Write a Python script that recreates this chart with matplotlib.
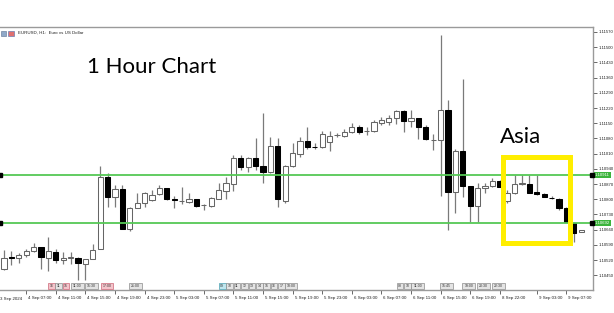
import numpy as np
import matplotlib.pyplot as plt
from matplotlib.patches import Rectangle
import matplotlib.transforms as mtrans

# EURUSD H1 candles (oldest first)
opens = [1.10480, 1.10532, 1.10528, 1.10541, 1.10563, 1.10578, 1.10531, 1.10558, 1.10518, 1.10531,
         1.10531, 1.10501, 1.10526, 1.10569, 1.10901, 1.10808, 1.10845, 1.10661, 1.10761, 1.10781,
         1.10796, 1.10822, 1.10853, 1.10801, 1.10793, 1.10787, 1.10801, 1.10773, 1.10768, 1.10802,
         1.10837, 1.10870, 1.10988, 1.10947, 1.10988, 1.10953, 1.10924, 1.11045, 1.10793, 1.10953,
         1.11008, 1.11069, 1.11041, 1.11039, 1.11062, 1.11095, 1.11092, 1.11109, 1.11134, 1.11115,
         1.11115, 1.11152, 1.11157, 1.11172, 1.11207, 1.11160, 1.11172, 1.11134, 1.11072, 1.11072,
         1.11210, 1.10834, 1.11022, 1.10861, 1.10768, 1.10850, 1.10862, 1.10885, 1.10791, 1.10827,
         1.10870, 1.10868, 1.10834, 1.10824, 1.10807, 1.10799, 1.10758, 1.10689, 1.10649]
highs = [1.10566, 1.10563, 1.10553, 1.10569, 1.10599, 1.10580, 1.10627, 1.10569, 1.10558, 1.10558,
         1.10535, 1.10526, 1.10593, 1.10953, 1.10919, 1.10865, 1.10865, 1.10765, 1.10827, 1.10834,
         1.10842, 1.10865, 1.10853, 1.10814, 1.10854, 1.10827, 1.10801, 1.10778, 1.10808, 1.10876,
         1.10903, 1.11003, 1.11003, 1.10995, 1.11083, 1.11195, 1.11088, 1.11083, 1.10957, 1.11057,
         1.11088, 1.11132, 1.11057, 1.11115, 1.11115, 1.11106, 1.11122, 1.11149, 1.11140, 1.11131,
         1.11164, 1.11177, 1.11187, 1.11210, 1.11210, 1.11210, 1.11172, 1.11141, 1.11100, 1.11556,
         1.11257, 1.11030, 1.11352, 1.10861, 1.10873, 1.10873, 1.10896, 1.10888, 1.10842, 1.10911,
         1.10911, 1.10911, 1.10911, 1.10827, 1.10814, 1.10804, 1.10764, 1.10696, 1.10658]
lows = [1.10474, 1.10497, 1.10505, 1.10535, 1.10557, 1.10477, 1.10469, 1.10505, 1.10500, 1.10501,
        1.10428, 1.10428, 1.10526, 1.10569, 1.10765, 1.10765, 1.10664, 1.10655, 1.10758, 1.10765,
        1.10793, 1.10819, 1.10796, 1.10758, 1.10778, 1.10784, 1.10762, 1.10750, 1.10765, 1.10799,
        1.10799, 1.10839, 1.10934, 1.10926, 1.10934, 1.10873, 1.10919, 1.10762, 1.10784, 1.10949,
        1.10995, 1.11030, 1.11030, 1.11034, 1.11023, 1.11085, 1.11088, 1.11103, 1.11100, 1.11096,
        1.11110, 1.11141, 1.11141, 1.11146, 1.11110, 1.11131, 1.11075, 1.11072, 1.11026, 1.10814,
        1.10658, 1.10735, 1.10811, 1.10696, 1.10696, 1.10827, 1.10857, 1.10856, 1.10781, 1.10824,
        1.10865, 1.10827, 1.10819, 1.10808, 1.10799, 1.10750, 1.10695, 1.10604, 1.10649]
closes = [1.10531, 1.10530, 1.10541, 1.10563, 1.10578, 1.10532, 1.10561, 1.10518, 1.10531, 1.10532,
          1.10505, 1.10526, 1.10566, 1.10901, 1.10808, 1.10845, 1.10664, 1.10761, 1.10781, 1.10830,
          1.10820, 1.10853, 1.10801, 1.10796, 1.10794, 1.10802, 1.10770, 1.10774, 1.10804, 1.10842,
          1.10873, 1.10988, 1.10947, 1.10988, 1.10953, 1.10924, 1.11045, 1.10799, 1.10953, 1.11011,
          1.11069, 1.11041, 1.11039, 1.11100, 1.11092, 1.11096, 1.11110, 1.11134, 1.11108, 1.11116,
          1.11154, 1.11164, 1.11172, 1.11207, 1.11161, 1.11175, 1.11134, 1.11075, 1.11073, 1.11210,
          1.10834, 1.11022, 1.10862, 1.10768, 1.10850, 1.10862, 1.10885, 1.10857, 1.10827, 1.10868,
          1.10873, 1.10830, 1.10824, 1.10811, 1.10806, 1.10758, 1.10696, 1.10643, 1.10658]

# horizontal levels and the Asia session box
levels = [1.10911, 1.10692]
asia_start, asia_end = 67.4, 76.55
asia_low, asia_high = 1.10600, 1.10996

# price axis
price_ticks = [1.10450, 1.10520, 1.10590, 1.10660, 1.10730, 1.10800, 1.10870, 1.10940,
               1.11010, 1.11080, 1.11150, 1.11220, 1.11290, 1.11360, 1.11430, 1.11500, 1.11570]

# time axis (bar index -> label)
time_pos = [3, 7, 11, 15, 19, 23, 27, 31, 35, 39, 43, 47, 51, 55, 59, 63, 67, 72, 76]
time_labels = ['4 Sep 07:00', '4 Sep 11:00', '4 Sep 15:00', '4 Sep 19:00', '4 Sep 23:00',
               '5 Sep 03:00', '5 Sep 07:00', '5 Sep 11:00', '5 Sep 15:00', '5 Sep 19:00',
               '5 Sep 23:00', '6 Sep 03:00', '6 Sep 07:00', '6 Sep 11:00', '6 Sep 15:00',
               '6 Sep 19:00', '8 Sep 22:00', '9 Sep 03:00', '9 Sep 07:00']

# economic calendar markers along the bottom
event_pos = [6.4, 7.4, 8.4, 9.9, 11.8, 13.9, 17.8, 29.5, 30.5, 31.5, 32.5, 33.5, 34.5, 35.5,
             36.5, 37.5, 38.8, 53.5, 54.5, 55.9, 59.8, 62.8, 64.8, 66.8]
event_text = ['16', '11', '15', '11:00', '15:30', '17:00', '21:00', '09', '10', '11', '12', '13',
              '14', '15', '16', '17', '18:00', '08', '10', '11:00', '15:45', '19:00', '20:30', '22:30']
event_kind = ['hi', 'lo', 'hi', 'lo', 'lo', 'hi', 'lo', 'new', 'lo', 'lo', 'lo', 'lo',
              'lo', 'lo', 'lo', 'lo', 'lo', 'lo', 'lo', 'lo', 'lo', 'lo', 'lo', 'lo']

W, H = 614, 313
fig = plt.figure(figsize=(W / 100, H / 100), dpi=100)
ax = fig.add_axes([0, 1 - 290 / H, 593 / W, (290 - 27) / H])

x = np.arange(len(opens))
bw = 0.7
for i in x:
    o, h, l, c = opens[i], highs[i], lows[i], closes[i]
    ax.vlines(i, l, h, color='#7a7a7a', linewidth=0.9, zorder=2)
    lo_b = min(o, c)
    hi_b = max(o, c)
    if c >= o:
        ax.add_patch(Rectangle((i - bw / 2, lo_b), bw, hi_b - lo_b, facecolor='white',
                               edgecolor='#666666', linewidth=0.75, zorder=3))
    else:
        ax.add_patch(Rectangle((i - bw / 2, lo_b), bw, hi_b - lo_b, facecolor='black',
                               edgecolor='black', linewidth=0.75, zorder=3))

xmin, xmax = -4 / 7.4, -4 / 7.4 + 593 / 7.4
ax.set_xlim(xmin, xmax)
ax.set_ylim(1.10382, 1.11593)

# green levels with end markers and price tags
for lv in levels:
    ax.axhline(lv, color='#55c855', linewidth=1.3, zorder=4)
    ax.plot([xmin + 0.05, xmax - 0.15], [lv, lv], 's', color='black', markersize=2.2,
            clip_on=False, zorder=5)
    ax.text(1.003, lv, '%.5f' % lv, transform=ax.get_yaxis_transform(), fontsize=3.1,
            family='Liberation Sans', color='white', va='center', ha='left',
            bbox=dict(boxstyle='square,pad=0.25', facecolor='#3cb43c', edgecolor='none'),
            clip_on=False)

# Asia box
ax.add_patch(Rectangle((asia_start, asia_low), asia_end - asia_start, asia_high - asia_low,
                       facecolor='none', edgecolor='#ffee00', linewidth=3.6, zorder=6))
ax.text(asia_start - 0.35, 1.11057, 'Asia', fontsize=16, family='Lato', color='black',
        va='baseline', ha='left', zorder=7)
ax.text(11.2, 1.11381, '1 Hour Chart', fontsize=16, family='Lato', color='black',
        va='baseline', ha='left', zorder=7)

# calendar markers
colors = {'hi': ('#f4c4cb', '#cc6677'), 'lo': ('#e4e4e4', '#8c8c8c'), 'new': ('#bfe6ee', '#4a9fb0')}
tr = ax.get_xaxis_transform()
for pos, txt, kind in zip(event_pos, event_text, event_kind):
    w = 0.9 if len(txt) <= 2 else 1.7
    fc, ec = colors[kind]
    ax.add_patch(Rectangle((pos - w / 2, 1.5 / 263), w, 5.5 / 263, transform=tr,
                           facecolor=fc, edgecolor=ec, linewidth=0.5, zorder=6, clip_on=False))
    ax.text(pos, 4.2 / 263, txt, transform=tr, fontsize=2.5, family='Liberation Sans',
            ha='center', va='center', color='#333333', zorder=7)

# spines / ticks styled like the terminal
for side in ['top', 'right', 'bottom']:
    ax.spines[side].set_color('#9a9a9a')
    ax.spines[side].set_linewidth(1.0)
ax.spines['left'].set_visible(False)

ax.yaxis.tick_right()
ax.set_yticks(price_ticks)
ax.set_yticklabels(['%.5f' % p for p in price_ticks])
ax.tick_params(axis='y', length=3, width=0.6, colors='#505050', labelsize=3.1, pad=1)
ax.set_xticks(time_pos)
ax.set_xticklabels(time_labels)
ax.tick_params(axis='x', length=3, width=0.6, colors='#505050', labelsize=3.2, pad=1.2)
shift = mtrans.ScaledTranslation(1.5 / 72, 0, fig.dpi_scale_trans)
for lab in ax.get_xticklabels():
    lab.set_horizontalalignment('left')
    lab.set_transform(lab.get_transform() + shift)
    lab.set_family('Liberation Sans')
    lab.set_color('#202020')
for lab in ax.get_yticklabels():
    lab.set_family('Liberation Sans')
    lab.set_color('#202020')

# first date label, kept just inside the left edge
ax.text(-0.5, -0.028, '3 Sep 2024', transform=tr, fontsize=3.2, family='Liberation Sans',
        color='#202020', ha='left', va='top', clip_on=False)

# chart caption with the two little icons
fig.patches.append(Rectangle((1 / W, 1 - 36 / H), 5 / W, 5 / H, transform=fig.transFigure,
                             facecolor='#8fa8c8', edgecolor='#5a6f8f', linewidth=0.4))
fig.patches.append(Rectangle((8 / W, 1 - 36 / H), 6 / W, 5 / H, transform=fig.transFigure,
                             facecolor='#e07070', edgecolor='#4a6fb0', linewidth=0.4))
fig.text(18 / W, 1 - 33 / H, 'EURUSD, H1:  Euro vs US Dollar', fontsize=3.2,
         family='Liberation Sans', color='#202020', va='center', ha='left')

fig.savefig('out.png', dpi=100, facecolor='white')
